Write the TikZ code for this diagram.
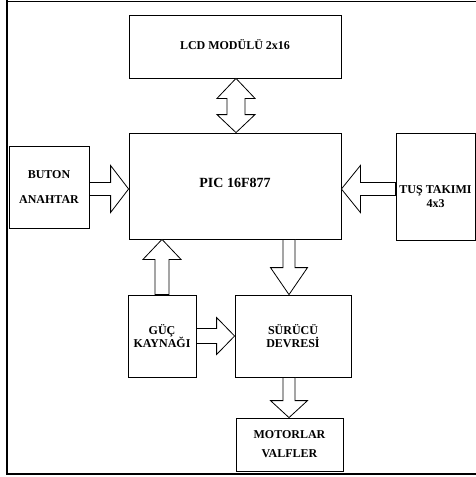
\documentclass[tikz,border=0pt]{standalone}
\usepackage{fontspec}
\setmainfont{Liberation Serif}
\usetikzlibrary{calc}
\tikzset{
  box/.style={draw=black, line width=0.8pt, inner sep=0pt, align=center,
    font=\bfseries\fontsize{12}{14}\selectfont},
  blk/.style={draw=black, line width=0.8pt, fill=white, line join=miter},
  frameline/.style={draw=black, line width=2.2pt}
}
% vertical block arrow: #1 x, #2 from, #3 to, #4 shaft half, #5 head half, #6 head length, #7 sign (+1 up, -1 down)
\newcommand{\varr}[7]{%
  \path[blk] let \p1=(#2), \p2=(#3) in
    ({#1pt-#4pt},\y1) -- ({#1pt-#4pt},{\y2-(#7)*#6pt}) -- ({#1pt-#5pt},{\y2-(#7)*#6pt})
    -- (#1pt,\y2) -- ({#1pt+#5pt},{\y2-(#7)*#6pt}) -- ({#1pt+#4pt},{\y2-(#7)*#6pt})
    -- ({#1pt+#4pt},\y1) -- cycle;}
% horizontal block arrow: #1 y (downward units), #2 from, #3 to, #4 shaft half, #5 head half, #6 head length, #7 sign (+1 right, -1 left)
\newcommand{\harr}[7]{%
  \path[blk] let \p1=(#2), \p2=(#3) in
    (\x1,{-#1pt+#4pt}) -- ({\x2-(#7)*#6pt},{-#1pt+#4pt}) -- ({\x2-(#7)*#6pt},{-#1pt+#5pt})
    -- (\x2,{-#1pt}) -- ({\x2-(#7)*#6pt},{-#1pt-#5pt}) -- ({\x2-(#7)*#6pt},{-#1pt-#4pt})
    -- (\x1,{-#1pt-#4pt}) -- cycle;}
\begin{document}
\begin{tikzpicture}[x=1pt,y=-1pt]
\useasboundingbox (0,0) rectangle (476,477);
% frame
\draw[draw=black, line width=1pt] (6,1) -- (476,1);
\draw[frameline] (7,0) -- (7,474.3) -- (476,474.3);
% boxes
\node[box, minimum width=212pt, minimum height=63pt] (lcd) at (235,46.5) {\rule[-3pt]{0pt}{3pt}LCD MODÜLÜ 2x16};
\node[box, minimum width=212pt, minimum height=106pt, font=\bfseries\fontsize{14}{16}\selectfont] (pic) at (235,186) {\rule[-7pt]{0pt}{7pt}PIC 16F877};
\node[box, minimum width=80pt, minimum height=82pt] (buton) at (49,187) {BUTON\\[11pt]ANAHTAR};
\node[box, minimum width=79pt, minimum height=107pt] (tus) at (435.5,186.5) {\rule{0pt}{28pt}TUŞ TAKIMI\\4x3};
\node[box, minimum width=68pt, minimum height=82pt] (guc) at (162,336) {GÜÇ\\[-1pt]KAYNAĞI};
\node[box, minimum width=116pt, minimum height=82pt] (surucu) at (293,336) {SÜRÜCÜ\\[-1pt]DEVRESİ};
\node[box, minimum width=107pt, minimum height=53pt] (motor) at (289.5,444.5) {MOTORLAR\\[5pt]VALFLER};
% double arrow LCD <-> PIC
\path[blk] let \p1=(lcd.south), \p2=(pic.north) in
  (236pt,\y1) -- (255pt,{\y1-20pt}) -- (245pt,{\y1-20pt}) -- (245pt,{\y2+18pt})
  -- (255pt,{\y2+18pt}) -- (236pt,\y2) -- (217pt,{\y2+18pt}) -- (227pt,{\y2+18pt})
  -- (227pt,{\y1-20pt}) -- (217pt,{\y1-20pt}) -- cycle;
% arrows
\harr{189}{buton.east}{pic.west}{6.5}{23.5}{18}{1}
\harr{189}{tus.west}{pic.east}{6.5}{23.5}{19}{-1}
\varr{162}{guc.north}{pic.south}{7}{19}{20}{1}
\varr{289}{pic.south}{surucu.north}{6}{18.5}{27}{-1}
\harr{336}{guc.east}{surucu.west}{7.5}{18.5}{18}{1}
\varr{289}{surucu.south}{motor.north}{6}{18.5}{17}{-1}
\end{tikzpicture}
\end{document}
